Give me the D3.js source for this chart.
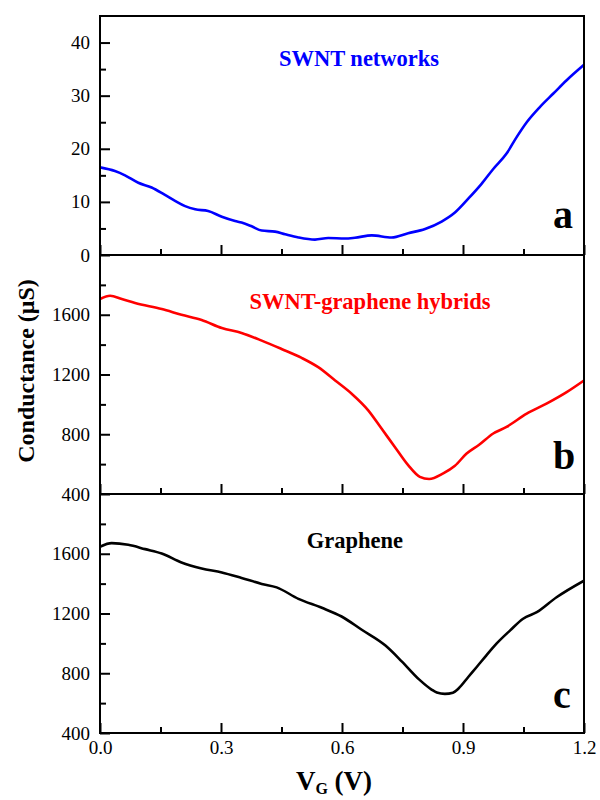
<!DOCTYPE html>
<html><head><meta charset="utf-8">
<script src="https://cdn.jsdelivr.net/npm/d3@7"></script>
<style>body{margin:0;background:#fff}svg{display:block}svg text{font-family:"Liberation Serif","Times New Roman","DejaVu Serif",serif}</style>
</head><body><svg id="chart" width="600" height="800"></svg>
<script>
// ---- data ----
const vgA = [0, 0.037, 0.062, 0.095, 0.128, 0.161, 0.186, 0.211, 0.236, 0.268, 0.302, 0.335, 0.351, 0.376, 0.401, 0.434, 0.459, 0.492, 0.533, 0.566, 0.607, 0.632, 0.674, 0.723, 0.764, 0.806, 0.847, 0.88, 0.913, 0.946, 0.975, 1.008, 1.033, 1.058, 1.091, 1.124, 1.157, 1.2];
const gA  = [16.5, 15.8, 15.0, 13.6, 12.7, 11.3, 10.2, 9.2, 8.6, 8.3, 7.2, 6.4, 6.1, 5.4, 4.6, 4.4, 3.9, 3.3, 2.9, 3.2, 3.1, 3.25, 3.7, 3.3, 4.1, 4.9, 6.3, 8.0, 10.6, 13.4, 16.2, 19.1, 22.2, 25.0, 27.9, 30.4, 32.9, 35.8];

const vgB = [0, 0.025, 0.054, 0.087, 0.153, 0.202, 0.252, 0.302, 0.351, 0.401, 0.45, 0.5, 0.541, 0.583, 0.624, 0.665, 0.698, 0.731, 0.764, 0.793, 0.816, 0.851, 0.88, 0.909, 0.94, 0.975, 1.008, 1.058, 1.107, 1.157, 1.2];
const gB  = [1705, 1727, 1705, 1678, 1638, 1600, 1565, 1511, 1478, 1427, 1371, 1311, 1249, 1160, 1071, 960, 838, 715, 593, 515, 500, 538, 589, 671, 730, 805, 849, 938, 1005, 1082, 1160];

const vgC = [0, 0.029, 0.07, 0.112, 0.153, 0.202, 0.252, 0.302, 0.351, 0.401, 0.438, 0.492, 0.55, 0.599, 0.649, 0.707, 0.748, 0.791, 0.822, 0.835, 0.855, 0.875, 0.889, 0.913, 0.934, 0.958, 0.983, 1.017, 1.049, 1.083, 1.132, 1.2];
const gC  = [1647, 1671, 1660, 1631, 1602, 1542, 1502, 1475, 1438, 1398, 1375, 1298, 1238, 1180, 1091, 987, 880, 759, 691, 671, 662, 670, 698, 775, 842, 920, 998, 1087, 1165, 1209, 1309, 1420];

const xMajor = [0, 0.3, 0.6, 0.9, 1.2];
const xMajorLabels = ["0.0", "0.3", "0.6", "0.9", "1.2"];
const xMinor = [0.15, 0.45, 0.75, 1.05];

const aMajor = [0, 10, 20, 30, 40];
const aMinor = [5, 15, 25, 35];
const bcMajor = [400, 800, 1200, 1600];
const bcMinor = [600, 1000, 1400, 1800];

const panelNames = ["SWNT networks", "SWNT-graphene hybrids", "Graphene"];
const panelLetters = ["a", "b", "c"];
const panelColors = ["#0000ff", "#ff0000", "#000000"];

// ---- layout ----
const svg = d3.select("#chart");
const L = 100, R = 584;
const font = '"Liberation Serif","Times New Roman","DejaVu Serif",serif';
const x = d3.scaleLinear().domain([0, 1.2]).range([L, R]);

const panels = [
  {top: 16,  bottom: 255, domain: [0, 45],     major: aMajor,  minor: aMinor,  vg: vgA, g: gA,
   label: {x: 359, y: 66}, letterY: 228},
  {top: 255, bottom: 494, domain: [400, 2000], major: bcMajor, minor: bcMinor, vg: vgB, g: gB,
   label: {x: 370, y: 309}, letterY: 469},
  {top: 494, bottom: 733, domain: [400, 2000], major: bcMajor, minor: bcMinor, vg: vgC, g: gC,
   label: {x: 355, y: 548}, letterY: 708}
];

panels.forEach((p, i) => {
  const y = d3.scaleLinear().domain(p.domain).range([p.bottom, p.top]);
  const gp = svg.append("g");

  const clipId = "clip" + i;
  gp.append("clipPath").attr("id", clipId).append("rect")
    .attr("x", L).attr("y", p.top).attr("width", R - L).attr("height", p.bottom - p.top);

  // data line
  const pts = p.vg.map((v, k) => [v, p.g[k]]);
  gp.append("path")
    .datum(pts)
    .attr("clip-path", `url(#${clipId})`)
    .attr("fill", "none")
    .attr("stroke", panelColors[i])
    .attr("stroke-width", 2.6)
    .attr("stroke-linejoin", "round")
    .attr("d", d3.line().x(d => x(d[0])).y(d => y(d[1])).curve(d3.curveMonotoneX));

  // left axis major
  const ay = gp.append("g").attr("transform", `translate(${L},0)`)
    .call(d3.axisLeft(y).tickValues(p.major).tickSizeInner(-10).tickSizeOuter(0).tickPadding(10).tickFormat(d3.format("d")));
  ay.attr("font-family", null);
  ay.select(".domain").remove();
  ay.selectAll("line").attr("stroke", "#000").attr("stroke-width", 2);
  ay.selectAll("text").style("font-family", font).attr("font-size", 19).attr("fill", "#000");

  // left axis minor
  const ayM = gp.append("g").attr("transform", `translate(${L},0)`)
    .call(d3.axisLeft(y).tickValues(p.minor).tickSizeInner(-6).tickSizeOuter(0).tickFormat(""));
  ayM.select(".domain").remove();
  ayM.selectAll("line").attr("stroke", "#000").attr("stroke-width", 2);

  // bottom axis major
  const ax = gp.append("g").attr("transform", `translate(0,${p.bottom})`)
    .call(d3.axisBottom(x).tickValues(xMajor).tickSizeInner(-10).tickSizeOuter(0).tickPadding(8)
      .tickFormat((d, k) => i === 2 ? xMajorLabels[k] : ""));
  ax.attr("font-family", null);
  ax.select(".domain").remove();
  ax.selectAll("line").attr("stroke", "#000").attr("stroke-width", 2);
  ax.selectAll("text").style("font-family", font).attr("font-size", 19).attr("fill", "#000");

  const axM = gp.append("g").attr("transform", `translate(0,${p.bottom})`)
    .call(d3.axisBottom(x).tickValues(xMinor).tickSizeInner(-6).tickSizeOuter(0).tickFormat(""));
  axM.select(".domain").remove();
  axM.selectAll("line").attr("stroke", "#000").attr("stroke-width", 2);

  // frame
  gp.append("rect")
    .attr("x", L).attr("y", p.top).attr("width", R - L).attr("height", p.bottom - p.top)
    .attr("fill", "none").attr("stroke", "#000").attr("stroke-width", 2);

  // annotation
  gp.append("text")
    .attr("x", p.label.x).attr("y", p.label.y)
    .attr("text-anchor", "middle")
    .style("font-family", font).attr("font-weight", "bold").attr("font-size", 22.5)
    .attr("fill", panelColors[i])
    .text(panelNames[i]);

  // panel letter
  gp.append("text")
    .attr("x", 553).attr("y", p.letterY)
    .style("font-family", font).attr("font-weight", "bold").attr("font-size", 40)
    .attr("fill", "#000")
    .text(panelLetters[i]);
});

// y title
svg.append("text")
  .attr("transform", "translate(34,371) rotate(-90)")
  .attr("text-anchor", "middle")
  .style("font-family", font).attr("font-weight", "bold").attr("font-size", 24)
  .text("Conductance (μS)");

// x title
const xt = svg.append("text")
  .attr("x", 334).attr("y", 790)
  .attr("text-anchor", "middle")
  .style("font-family", font).attr("font-weight", "bold").attr("font-size", 27);
xt.append("tspan").text("V");
xt.append("tspan").attr("font-size", 16).attr("dy", 4).text("G");
xt.append("tspan").attr("dy", -4).text(" (V)");
</script>
</body></html>
